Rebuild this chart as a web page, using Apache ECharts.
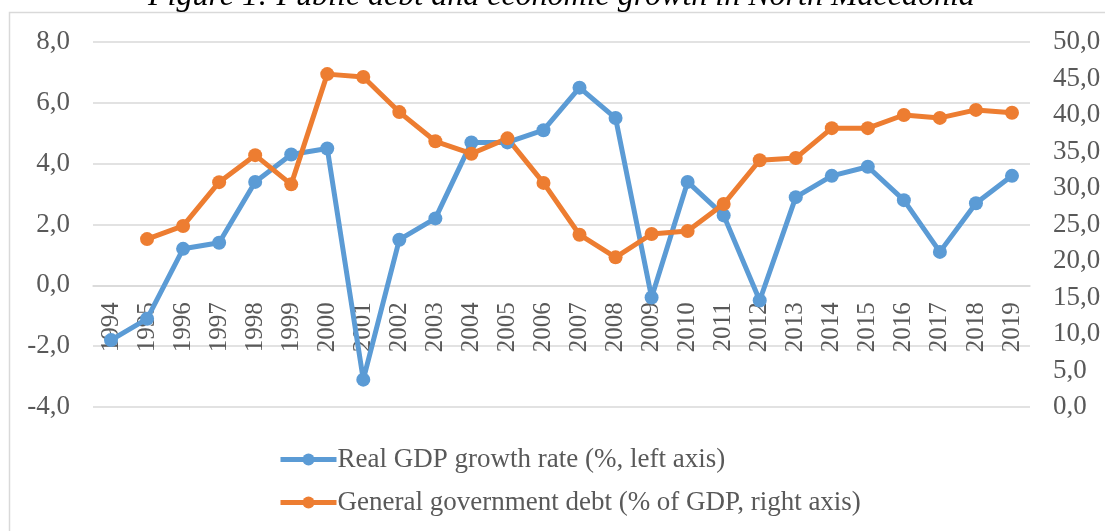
<!DOCTYPE html>
<html>
<head>
<meta charset="utf-8">
<script src="https://cdn.jsdelivr.net/npm/echarts@6/dist/echarts.min.js"></script>
<style>
  html, body { margin: 0; padding: 0; background: #fff; }
  #chart { width: 1105px; height: 531px; }
</style>
</head>
<body>
<div id="chart"></div>
<script>
// years on the category axis
var years = ["1994", "1995", "1996", "1997", "1998", "1999", "2000", "2001", "2002", "2003",
  "2004", "2005", "2006", "2007", "2008", "2009", "2010", "2011", "2012", "2013",
  "2014", "2015", "2016", "2017", "2018", "2019"];

// Real GDP growth rate (%), left axis
var gdpGrowth = [-1.8, -1.1, 1.2, 1.4, 3.4, 4.3, 4.5, -3.1, 1.5, 2.2,
  4.7, 4.7, 5.1, 6.5, 5.5, -0.4, 3.4, 2.3, -0.5, 2.9,
  3.6, 3.9, 2.8, 1.1, 2.7, 3.6];

// General government debt (% of GDP), right axis
var govDebt = [null, 23.0, 24.8, 30.8, 34.5, 30.5, 45.6, 45.2, 40.4, 36.4,
  34.7, 36.8, 30.7, 23.6, 20.5, 23.7, 24.1, 27.8, 33.8, 34.1,
  38.2, 38.2, 40.0, 39.6, 40.7, 40.3];

var seriesNames = ["Real GDP growth rate (%, left axis)", "General government debt (% of GDP, right axis)"];

var fontFam = "'Liberation Serif', 'Times New Roman', serif";
var textColor = "#595959";

function commaFmt(v) {
  return v.toFixed(1).replace(".", ",");
}

var gridTop = 42, gridBottom = 124;
var plotH = 531 - gridTop - gridBottom;
// move the year axis up to the left axis zero (-4..8 range)
var zeroOffset = -(plotH * 4 / 12);

var myChart = echarts.init(document.getElementById("chart"));

var option = {
  backgroundColor: "#fff",
  animation: false,
  textStyle: { fontFamily: fontFam },
  title: {
    text: "Figure 1: Public debt and economic growth in North Macedonia",
    left: 143,
    top: -24,
    textStyle: { fontFamily: fontFam, fontStyle: "italic", fontWeight: "normal", fontSize: 32, color: "#000" }
  },
  graphic: [
    {
      type: "rect",
      shape: { x: 9.5, y: 12.5, width: 1110, height: 530 },
      style: { fill: "none", stroke: "#d9d9d9", lineWidth: 1.5 },
      z: -1
    }
  ],
  grid: { left: 93, right: 75, top: gridTop, bottom: gridBottom },
  legend: {
    orient: "vertical",
    left: 273,
    top: 441,
    itemWidth: 56,
    itemHeight: 15,
    itemGap: 16,
    data: seriesNames,
    lineStyle: { width: 5 },
    textStyle: { fontFamily: fontFam, fontSize: 27, color: textColor, padding: [0, 0, 0, -4] }
  },
  xAxis: {
    type: "category",
    data: years,
    offset: zeroOffset,
    axisLine: { onZero: false, lineStyle: { color: "#d9d9d9", width: 1.5 } },
    axisTick: { show: false },
    axisLabel: { rotate: 90, margin: 17, fontSize: 25, color: textColor, fontFamily: fontFam }
  },
  yAxis: [
    {
      type: "value",
      min: -4,
      max: 8,
      interval: 2,
      axisLine: { show: false },
      axisTick: { show: false },
      splitLine: { lineStyle: { color: "#d9d9d9", width: 1.5 } },
      axisLabel: { formatter: commaFmt, fontSize: 27, color: textColor, margin: 23, fontFamily: fontFam }
    },
    {
      type: "value",
      min: 0,
      max: 50,
      interval: 5,
      axisLine: { show: false },
      axisTick: { show: false },
      splitLine: { show: false },
      axisLabel: { formatter: commaFmt, fontSize: 27, color: textColor, margin: 23, fontFamily: fontFam }
    }
  ],
  series: [
    {
      name: seriesNames[0],
      type: "line",
      yAxisIndex: 0,
      data: gdpGrowth,
      symbol: "circle",
      symbolSize: 14,
      itemStyle: { color: "#5B9BD5" },
      lineStyle: { color: "#5B9BD5", width: 5 }
    },
    {
      name: seriesNames[1],
      type: "line",
      yAxisIndex: 1,
      data: govDebt,
      symbol: "circle",
      symbolSize: 14,
      itemStyle: { color: "#ED7D31" },
      lineStyle: { color: "#ED7D31", width: 5 }
    }
  ]
};

myChart.setOption(option);
</script>
</body>
</html>
